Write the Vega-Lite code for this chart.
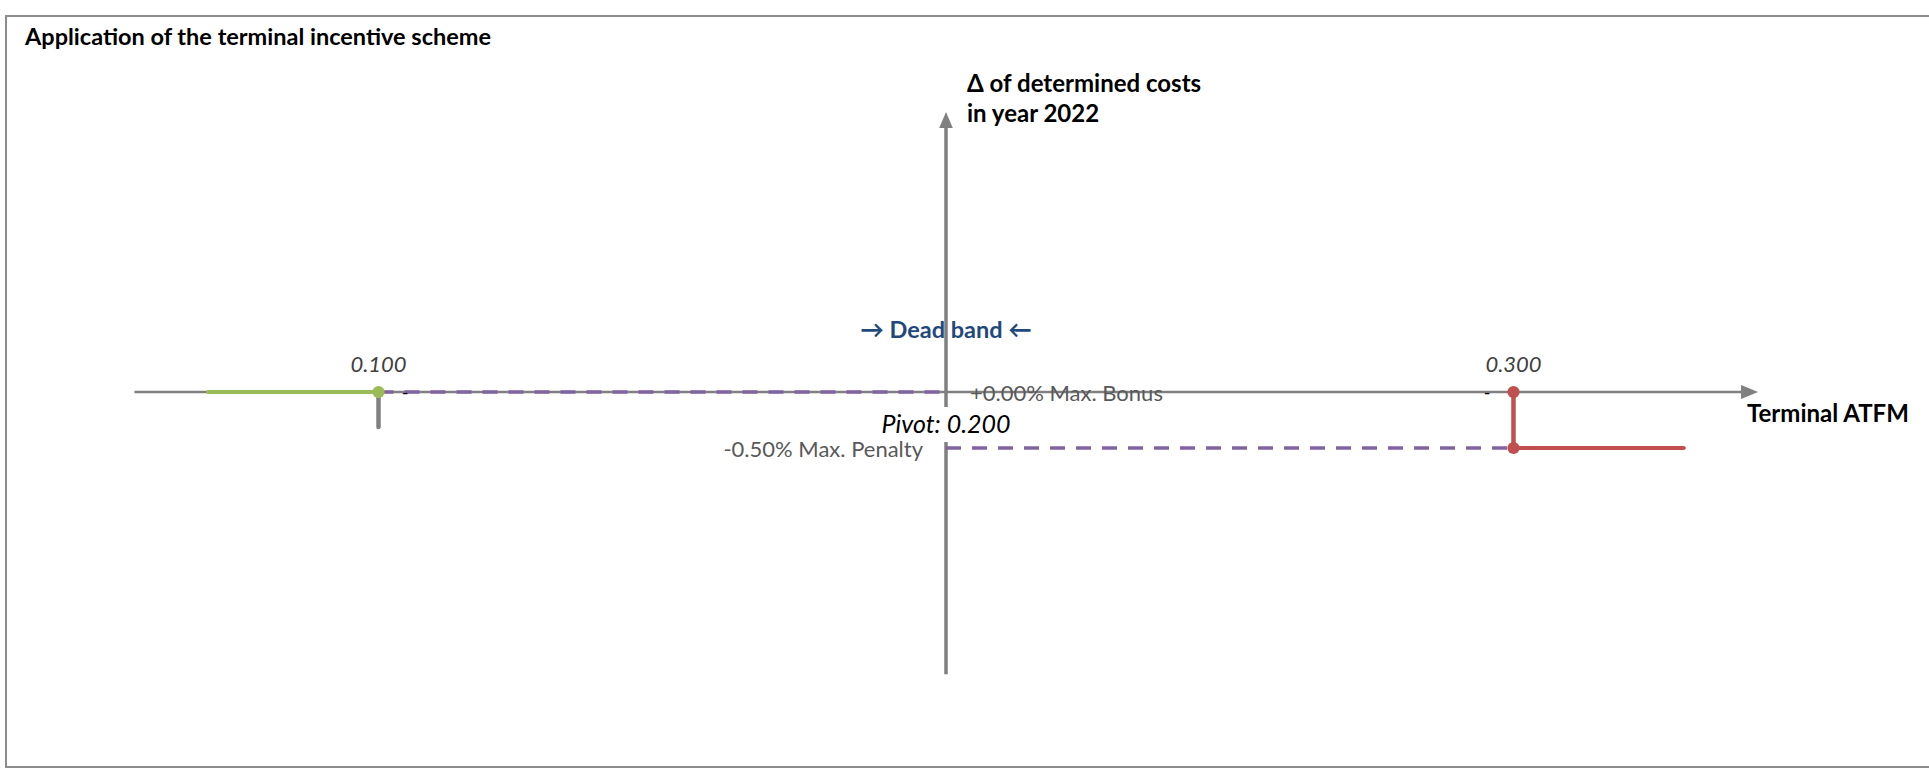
{
  "$schema": "https://vega.github.io/schema/vega-lite/v6.json",
  "width": 1923,
  "height": 752,
  "autosize": {"type": "none"},
  "padding": {"left": 6, "top": 16, "right": 0, "bottom": 0},
  "background": "white",
  "config": {"view": {"stroke": null}, "font": "Lato"},
  "encoding": {
    "x": {"field": "x", "type": "quantitative", "scale": {"domain": [0.034361, 0.373216], "nice": false, "zero": false}, "axis": null},
    "y": {"field": "y", "type": "quantitative", "scale": {"domain": [-3.357143, 3.357143], "nice": false, "zero": false}, "axis": null}
  },
  "layer": [
    {
      "data": {"values": [
        {"x": 0.373216, "y": 3.357143, "o": 1},
        {"x": 0.034361, "y": 3.357143, "o": 2},
        {"x": 0.034361, "y": -3.348, "o": 3},
        {"x": 0.373216, "y": -3.348, "o": 4}
      ]},
      "mark": {"type": "line", "color": "#8c8c8c", "strokeWidth": 2},
      "encoding": {"order": {"field": "o", "type": "quantitative"}}
    },
    {
      "data": {"values": [{"x": 0.037709, "y": 3.098, "label": "Application of the terminal incentive scheme"}]},
      "mark": {"type": "text", "fontSize": 23.5, "fontWeight": "bold", "color": "#000000", "align": "left", "baseline": "alphabetic"},
      "encoding": {"text": {"field": "label"}}
    },
    {
      "data": {"values": [{"x": 0.2, "y": 0.482, "label": "→ Dead band ←"}]},
      "mark": {"type": "text", "fontSize": 23.5, "fontWeight": "bold", "color": "#1f497d", "align": "center", "baseline": "alphabetic"},
      "encoding": {"text": {"field": "label"}}
    },
    {
      "data": {"values": [{"x": 0.057, "x2": 0.3409, "y": 0}]},
      "mark": {"type": "rule", "color": "#808080", "strokeWidth": 2.5},
      "encoding": {"x2": {"field": "x2"}}
    },
    {
      "data": {"values": [{"x": 0.2, "y": -2.52, "y2": 2.384}]},
      "mark": {"type": "rule", "color": "#808080", "strokeWidth": 3.5},
      "encoding": {"y2": {"field": "y2"}}
    },
    {
      "data": {"values": [{"x": 0.3416, "y": 0}]},
      "mark": {"type": "point", "filled": true, "opacity": 1, "color": "#808080", "shape": "M-1,-0.82L1,0L-1,0.82Z", "size": 289}
    },
    {
      "data": {"values": [{"x": 0.2, "y": 2.4286}]},
      "mark": {"type": "point", "filled": true, "opacity": 1, "color": "#808080", "shape": "M-0.85,1L0,-1L0.85,1Z", "size": 256}
    },
    {
      "data": {"values": [
        {"x": 0.1, "x2": 0.2, "y": 0},
        {"x": 0.2, "x2": 0.3, "y": -0.5}
      ]},
      "mark": {"type": "rule", "color": "#8064a2", "strokeWidth": 3.5, "strokeDash": [15, 11]},
      "encoding": {"x2": {"field": "x2"}}
    },
    {
      "data": {"values": [{"x": 0.07, "x2": 0.1, "y": 0}]},
      "mark": {"type": "rule", "color": "#9bbb59", "strokeWidth": 4, "strokeCap": "round"},
      "encoding": {"x2": {"field": "x2"}}
    },
    {
      "data": {"values": [{"x": 0.1, "y": 0, "y2": -0.3125}]},
      "mark": {"type": "rule", "color": "#808080", "strokeWidth": 4.5, "strokeCap": "round"},
      "encoding": {"y2": {"field": "y2"}}
    },
    {
      "data": {"values": [{"x": 0.3, "y": 0, "y2": -0.5}]},
      "mark": {"type": "rule", "color": "#c0504d", "strokeWidth": 4.5, "strokeCap": "round"},
      "encoding": {"y2": {"field": "y2"}}
    },
    {
      "data": {"values": [{"x": 0.3, "x2": 0.33, "y": -0.5}]},
      "mark": {"type": "rule", "color": "#c0504d", "strokeWidth": 4, "strokeCap": "round"},
      "encoding": {"x2": {"field": "x2"}}
    },
    {
      "data": {"values": [
        {"x": 0.1, "y": 0, "side": "bonus"},
        {"x": 0.3, "y": 0, "side": "penalty"},
        {"x": 0.3, "y": -0.5, "side": "penalty"}
      ]},
      "mark": {"type": "circle", "size": 150, "opacity": 1},
      "encoding": {
        "color": {"field": "side", "type": "nominal", "scale": {"domain": ["bonus", "penalty"], "range": ["#9bbb59", "#c0504d"]}, "legend": null}
      }
    },
    {
      "data": {"values": [{"x": 0.193, "x2": 0.207, "y": -0.134, "y2": -0.446}]},
      "mark": {"type": "rect", "color": "#ffffff", "opacity": 1},
      "encoding": {"x2": {"field": "x2"}, "y2": {"field": "y2"}}
    },
    {
      "data": {"values": [{"x": 0.2, "y": -0.366, "label": "Pivot: 0.200"}]},
      "mark": {"type": "text", "fontSize": 25, "fontStyle": "italic", "color": "#000000", "align": "center", "baseline": "alphabetic"},
      "encoding": {"text": {"field": "label"}}
    },
    {
      "data": {"values": [
        {"x": 0.1, "y": 0.1786, "label": "0.100"},
        {"x": 0.3, "y": 0.1786, "label": "0.300"}
      ]},
      "mark": {"type": "text", "fontSize": 22, "fontStyle": "italic", "color": "#404040", "align": "center", "baseline": "alphabetic"},
      "encoding": {"text": {"field": "label"}}
    },
    {
      "data": {"values": [{"x": 0.20423, "y": -0.0804, "label": "+0.00% Max. Bonus"}]},
      "mark": {"type": "text", "fontSize": 22, "color": "#595959", "align": "left", "baseline": "alphabetic"},
      "encoding": {"text": {"field": "label"}}
    },
    {
      "data": {"values": [{"x": 0.19595, "y": -0.5804, "label": "-0.50% Max. Penalty"}]},
      "mark": {"type": "text", "fontSize": 22, "color": "#595959", "align": "right", "baseline": "alphabetic"},
      "encoding": {"text": {"field": "label"}}
    },
    {
      "data": {"values": [
        {"x": 0.34115, "y": -0.2679, "label": "Terminal ATFM"},
        {"x": 0.2037, "y": 2.6786, "label": "Δ of determined costs"},
        {"x": 0.2037, "y": 2.4107, "label": "in year 2022"}
      ]},
      "mark": {"type": "text", "fontSize": 24, "fontWeight": "bold", "color": "#000000", "align": "left", "baseline": "alphabetic"},
      "encoding": {"text": {"field": "label"}}
    },
    {
      "data": {"values": [
        {"x": 0.10467, "y": -0.06, "label": "-"},
        {"x": 0.29533, "y": -0.06, "label": "-"}
      ]},
      "mark": {"type": "text", "fontSize": 18, "color": "#000000", "align": "center", "baseline": "alphabetic"},
      "encoding": {"text": {"field": "label"}}
    }
  ]
}
